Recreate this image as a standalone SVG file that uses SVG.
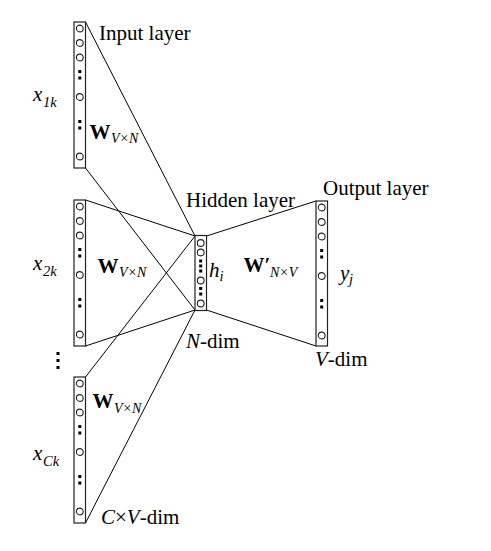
<svg xmlns="http://www.w3.org/2000/svg" width="491" height="551" viewBox="0 0 491 551">
<style>
text{font-family:"Liberation Serif","Times New Roman",serif;fill:#000}
.lbl{font-size:21px}
.it{font-style:italic}
.b{font-weight:bold}
.sub{font-size:14.5px;font-style:italic}
.sub2{font-size:14px;font-style:italic}
.box{fill:#fff;stroke:#222;stroke-width:1.2}
.c{fill:#fff;stroke:#222;stroke-width:1.1}
.d{fill:#000}
.ln{stroke:#000;stroke-width:1;fill:none}
</style>
<defs>
<g id="col">
<circle class="c" cx="0" cy="6.5" r="3.4"/>
<circle class="c" cx="0" cy="21" r="3.4"/>
<circle class="c" cx="0" cy="35.5" r="3.4"/>
<rect class="d" x="-1.5" y="48" width="3" height="3"/>
<rect class="d" x="-1.5" y="54.5" width="3" height="3"/>
<circle class="c" cx="0" cy="75" r="3.4"/>
<rect class="d" x="-1.5" y="98" width="3" height="3"/>
<rect class="d" x="-1.5" y="104.5" width="3" height="3"/>
<circle class="c" cx="0" cy="134.5" r="3.4"/>
</g>
</defs>
<g id="connectors">
<line class="ln" x1="85.5" y1="22" x2="195" y2="236"/>
<line class="ln" x1="85.5" y1="168" x2="195" y2="310"/>
<line class="ln" x1="85.5" y1="200" x2="195" y2="236"/>
<line class="ln" x1="85.5" y1="346" x2="195" y2="310"/>
<line class="ln" x1="85.5" y1="377" x2="195" y2="236"/>
<line class="ln" x1="85.5" y1="523" x2="195" y2="310"/>
<line class="ln" x1="206.5" y1="236" x2="316" y2="201"/>
<line class="ln" x1="206.5" y1="310" x2="316" y2="346"/>
</g>
<g id="input1">
<rect class="box" x="74" y="22" width="11.5" height="146"/>
<use href="#col" x="79.8" y="22"/>
<text class="lbl" x="99" y="40">Input layer</text>
<text class="lbl it" x="33" y="101">x</text><text class="sub" x="43" y="107">1k</text>
<text class="lbl b" x="89.5" y="139">W</text><text class="sub2" x="111" y="143">V×N</text>
</g>
<g id="input2">
<rect class="box" x="74" y="200" width="11.5" height="146"/>
<use href="#col" x="79.8" y="200"/>
<text class="lbl it" x="33" y="270">x</text><text class="sub" x="43" y="276">2k</text>
<text class="lbl b" x="97.5" y="273">W</text><text class="sub2" x="119" y="277">V×N</text>
</g>
<g id="ellipsis">
<rect class="d" x="56.5" y="352" width="3" height="3"/>
<rect class="d" x="56.5" y="359" width="3" height="3"/>
<rect class="d" x="56.5" y="366" width="3" height="3"/>
</g>
<g id="input3">
<rect class="box" x="74" y="377" width="11.5" height="146"/>
<use href="#col" x="79.8" y="377"/>
<text class="lbl it" x="33" y="460">x</text><text class="sub" x="43" y="466">Ck</text>
<text class="lbl b" x="92.5" y="408">W</text><text class="sub2" x="114" y="413">V×N</text>
<text class="lbl" x="101" y="524"><tspan class="it">C</tspan>×<tspan class="it">V</tspan>-dim</text>
</g>
<g id="hidden">
<rect class="box" x="195" y="235.5" width="11.5" height="75"/>
<circle class="c" cx="200.7" cy="243" r="3.4"/>
<circle class="c" cx="200.7" cy="252.5" r="3.4"/>
<rect class="d" x="199.2" y="259.5" width="3" height="3"/>
<rect class="d" x="199.2" y="264.5" width="3" height="3"/>
<rect class="d" x="199.2" y="269.5" width="3" height="3"/>
<circle class="c" cx="200.7" cy="280.5" r="3.4"/>
<rect class="d" x="199.2" y="287" width="3" height="3"/>
<rect class="d" x="199.2" y="292.5" width="3" height="3"/>
<circle class="c" cx="200.7" cy="303.5" r="3.4"/>
<text class="lbl" x="186" y="206.5">Hidden layer</text>
<text class="lbl it" x="209" y="277">h</text><text class="sub" x="219.5" y="281">i</text>
<text class="lbl" x="186" y="348"><tspan class="it">N</tspan>-dim</text>
</g>
<g id="output">
<rect class="box" x="316" y="201" width="11.5" height="145"/>
<use href="#col" x="321.7" y="201"/>
<text class="lbl" x="323" y="195">Output layer</text>
<text class="lbl it" x="340" y="280">y</text><text class="sub" x="349" y="284">j</text>
<text class="lbl" x="315" y="366"><tspan class="it">V</tspan>-dim</text>
<text class="lbl b" x="243.5" y="272">W′</text><text class="sub2" x="270" y="277">N×V</text>
</g>
</svg>
